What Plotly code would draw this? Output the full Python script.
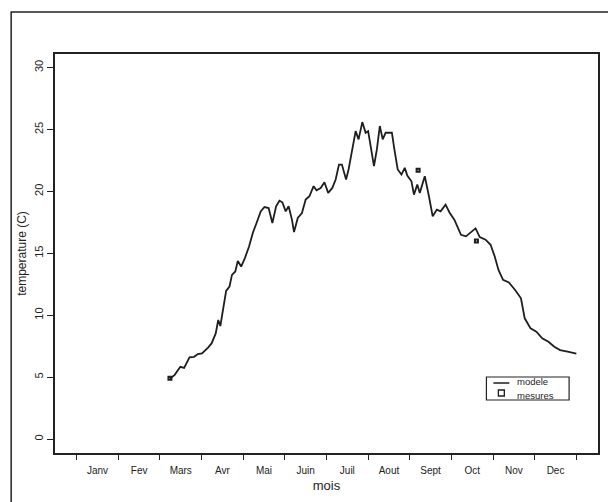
import plotly.graph_objects as go

# model curve (month units: 0 = 1 Jan, 12 = 31 Dec)
model_month = [2.24, 2.35, 2.49, 2.58, 2.71, 2.82, 2.91, 3.01, 3.15, 3.24, 3.34, 3.40, 3.45, 3.52,
               3.59, 3.67, 3.73, 3.81, 3.87, 3.95, 4.04, 4.14, 4.23, 4.32, 4.42, 4.51, 4.61, 4.70,
               4.79, 4.87, 4.94, 5.02, 5.09, 5.17, 5.22, 5.31, 5.41, 5.50, 5.59, 5.69, 5.76, 5.86,
               5.95, 6.04, 6.14, 6.22, 6.30, 6.37, 6.47, 6.53, 6.63, 6.70, 6.77, 6.86, 6.94, 7.00,
               7.10, 7.14, 7.21, 7.28, 7.35, 7.42, 7.50, 7.57, 7.63, 7.71, 7.80, 7.88, 7.94, 8.04,
               8.10, 8.18, 8.24, 8.36, 8.46, 8.55, 8.65, 8.74, 8.86, 8.96, 9.07, 9.14, 9.23, 9.35,
               9.44, 9.58, 9.68, 9.82, 9.94, 10.04, 10.13, 10.24, 10.38, 10.53, 10.67, 10.76, 10.90,
               11.04, 11.18, 11.33, 11.47, 11.61, 11.79, 12.00]
model_temp = [4.89, 5.16, 5.83, 5.75, 6.59, 6.64, 6.86, 6.91, 7.37, 7.72, 8.53, 9.61, 9.13, 10.42,
              11.96, 12.31, 13.26, 13.53, 14.39, 13.93, 14.61, 15.55, 16.64, 17.45, 18.39, 18.74,
              18.66, 17.45, 18.80, 19.25, 19.12, 18.39, 18.80, 17.72, 16.72, 17.85, 18.26, 19.34,
              19.61, 20.42, 20.09, 20.28, 20.74, 19.88, 20.28, 20.96, 22.17, 22.17, 20.96, 21.77,
              23.66, 24.87, 24.20, 25.60, 24.74, 24.87, 22.85, 22.04, 23.39, 25.28, 24.20, 24.74,
              24.74, 24.74, 23.39, 21.77, 21.36, 21.90, 21.28, 20.82, 19.74, 20.55, 19.88, 21.23,
              19.61, 17.99, 18.53, 18.39, 18.93, 18.26, 17.72, 17.18, 16.50, 16.37, 16.64, 17.01,
              16.31, 16.10, 15.69, 14.74, 13.66, 12.85, 12.64, 12.04, 11.37, 9.75, 8.94, 8.67,
              8.13, 7.86, 7.45, 7.18, 7.05, 6.90]

# measurements
meas_month = [2.24, 8.20, 9.60]
meas_temp = [4.9, 21.7, 16.0]

month_labels = ["Janv", "Fev", "Mars", "Avr", "Mai", "Juin", "Juil", "Aout", "Sept", "Oct", "Nov", "Dec"]
month_bounds = list(range(13))
label_pos = [m + 0.5 for m in range(12)]
y_ticks = [0, 5, 10, 15, 20, 25, 30]
legend_names = ["modele", "mesures"]

W, H = 616, 502
OFF = 8  # page body margin in the browser
# desired plot box in window pixels: left 53, top 54, right 598, bottom 453
L, T = 53 - OFF, 54 - OFF
R = W - (598 - OFF)
B = H - (453 - OFF)
pw, ph = W - L - R, H - T - B

def px2paper(x, y):
    """window pixel -> paper coordinates"""
    fx, fy = x - OFF, y - OFF
    return (fx - L) / pw, (H - B - fy) / ph

font = "Liberation Sans, Arial, Helvetica, sans-serif"
ink = "#1e1e1e"

fig = go.Figure()
fig.add_trace(go.Scatter(x=model_month, y=model_temp, mode="lines", name=legend_names[0],
                         line=dict(color=ink, width=1.8)))
fig.add_trace(go.Scatter(x=meas_month, y=meas_temp, mode="markers", name=legend_names[1],
                         marker=dict(symbol="square-open", size=3, color=ink,
                                     line=dict(width=2, color=ink))))

# outer frame (cropped at right / bottom)
x0, y0 = px2paper(9, 12)
x1, y1 = px2paper(660, 540)
fig.add_shape(type="rect", xref="paper", yref="paper", x0=x0, y0=y1, x1=x1, y1=y0,
              line=dict(color="#222", width=1.5), layer="below")

# legend box drawn manually (compact, like the original)
bx0, by0 = px2paper(486, 377)
bx1, by1 = px2paper(569, 400)
fig.add_shape(type="rect", xref="paper", yref="paper", x0=bx0, y0=by1, x1=bx1, y1=by0,
              line=dict(color="#222", width=1.2), fillcolor="white")
lx0, ly = px2paper(493, 383)
lx1, _ = px2paper(509, 383)
fig.add_shape(type="line", xref="paper", yref="paper", x0=lx0, y0=ly, x1=lx1, y1=ly,
              line=dict(color=ink, width=1.5))
sx0, sy0 = px2paper(498, 390)
sx1, sy1 = px2paper(504, 396)
fig.add_shape(type="rect", xref="paper", yref="paper", x0=sx0, y0=sy1, x1=sx1, y1=sy0,
              line=dict(color=ink, width=1.3))
tx, ty1 = px2paper(516, 388)
_, ty2 = px2paper(516, 389)
fig.add_annotation(xref="paper", yref="paper", x=tx, y=ty1, text=legend_names[0], showarrow=False,
                   xanchor="left", yanchor="bottom", borderpad=0,
                   font=dict(size=9.5, family=font, color=ink))
fig.add_annotation(xref="paper", yref="paper", x=tx, y=ty2, text=legend_names[1], showarrow=False,
                   xanchor="left", yanchor="top", borderpad=0,
                   font=dict(size=9.5, family=font, color=ink))

fig.update_layout(
    width=W, height=H,
    margin=dict(l=L, r=R, t=T, b=B),
    paper_bgcolor="white", plot_bgcolor="white",
    font=dict(family=font, color="#222"),
    showlegend=False,
    xaxis=dict(range=[-0.52, 12.52], tickmode="array", tickvals=label_pos, ticktext=month_labels,
               ticks="", ticklabelstandoff=7, tickfont=dict(size=10), showgrid=False, zeroline=False,
               showline=True, linecolor="#222", linewidth=1.5, mirror=True,
               minor=dict(tickmode="array", tickvals=month_bounds, ticks="outside", ticklen=5,
                          tickcolor="#222", tickwidth=1.2, showgrid=False),
               title=dict(text="mois", font=dict(size=13), standoff=6)),
    yaxis=dict(range=[-1.13, 31.1], tickmode="array", tickvals=y_ticks, ticks="outside",
               ticklen=6, tickcolor="#222", tickwidth=1.2, tickangle=-90,
               tickfont=dict(size=11), showgrid=False, zeroline=False,
               showline=True, linecolor="#222", linewidth=1.5, mirror=True,
               title=dict(text="temperature (C)", font=dict(size=12), standoff=4)),
)

fig.write_html("out.html")
